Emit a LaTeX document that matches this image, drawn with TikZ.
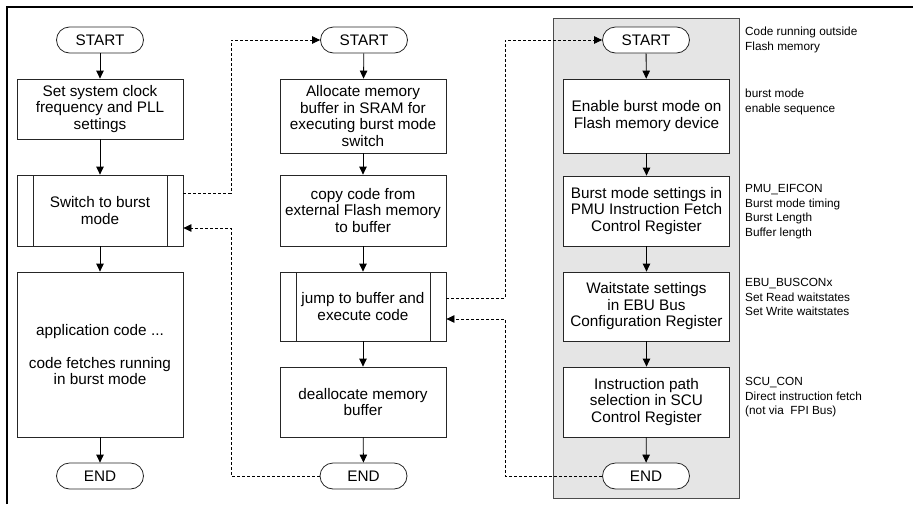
\documentclass[tikz,border=0pt]{standalone}
\usepackage{fontspec}
\setmainfont{Liberation Sans}
\usetikzlibrary{arrows.meta,calc}

\begin{document}
\begin{tikzpicture}[x=1pt,y=-1pt,
  box/.style={draw=black!85, fill=white, line width=0.8pt, minimum width=166pt,
    inner sep=2pt, align=center, font=\fontsize{15.3}{16.5}\selectfont},
  term/.style={box, rounded corners=13pt, minimum width=87pt, minimum height=26pt},
  subproc/.style={box, path picture={
    \draw[black!85, line width=0.8pt]
      ([xshift=16pt]path picture bounding box.north west) -- ([xshift=16pt]path picture bounding box.south west)
      ([xshift=-16pt]path picture bounding box.north east) -- ([xshift=-16pt]path picture bounding box.south east);}},
  flow/.style={-{Triangle[width=7.5pt,length=8pt]}, line width=0.8pt, black},
  link/.style={flow, dash pattern=on 3pt off 2pt},
  note/.style={anchor=north west, inner sep=0pt, align=left,
    font=\fontsize{11.8}{14.5}\selectfont},
  panel/.style={draw=black!70, fill=black!10, line width=0.8pt}
]
\useasboundingbox (0,0) rectangle (913,504);

% frame
\draw[line width=2.5pt] (7,504) -- (7,7) -- (913,7);

% shaded panel of the code run from RAM
\node[panel, minimum width=186pt, minimum height=480pt] (panel) at (646,258) {};

% left column: main program
\node[term] (ls) at (100,40) {START};
\node[box, minimum height=60pt] (l1) at (100,109) {Set system clock\\frequency and PLL\\settings};
\node[subproc, minimum height=71pt] (l2) at (100,210.5) {Switch to burst\\mode};
\node[box, minimum height=165pt] (l3) at (100,354.5) {application code ...\\[16.5pt]code fetches running\\in burst mode};
\node[term] (le) at (100,476) {END};

% middle column: burst mode switch
\node[term] (ms) at (364,40) {START};
\node[box, minimum height=74pt] (m1) at (363,116) {Allocate memory\\buffer in SRAM for\\executing burst mode\\switch};
\node[box, minimum height=71pt] (m2) at (363,210.5) {copy code from\\external Flash memory\\to buffer};
\node[subproc, minimum height=69pt] (m3) at (363,306.5) {jump to buffer and\\execute code};
\node[box, minimum height=70pt] (m4) at (363,402) {deallocate memory\\buffer};
\node[term] (me) at (363.5,476) {END};

% right column: code in the buffer
\node[term] (rs) at (646,40) {START};
\node[box, minimum height=74pt] (r1) at (646.5,116) {Enable burst mode on\\Flash memory device};
\node[box, minimum height=70pt] (r2) at (646.5,211) {Burst mode settings in\\PMU Instruction Fetch\\Control Register};
\node[box, minimum height=69pt] (r3) at (646.5,306.5) {Waitstate settings\\in EBU Bus\\Configuration Register};
\node[box, minimum height=70pt] (r4) at (646.5,402) {Instruction path\\selection in SCU\\Control Register};
\node[term] (re) at (646,476) {END};

% notes
\node[note] (n0) at (745,27) {Code running outside\\Flash memory};
\node[note] (n1) at (745,89) {burst mode\\enable sequence};
\node[note] (n2) at (745,184.5) {PMU\_EIFCON\\Burst mode timing\\Burst Length\\Buffer length};
\node[note] (n3) at (745,278.5) {EBU\_BUSCONx\\Set Read waitstates\\Set Write waitstates};
\node[note] (n4) at (745,377.5) {SCU\_CON\\Direct instruction fetch\\(not via~~FPI Bus)};

% sequential flow
\draw[flow] (ls) -- (l1);
\draw[flow] (l1) -- (l2);
\draw[flow] (l2) -- (l3);
\draw[flow] (l3) -- (le);
\draw[flow] (ms) -- (m1);
\draw[flow] (m1) -- (m2);
\draw[flow] (m2) -- (m3);
\draw[flow] (m3) -- (m4);
\draw[flow] (m4) -- (me);
\draw[flow] (rs) -- (r1);
\draw[flow] (r1) -- (r2);
\draw[flow] (r2) -- (r3);
\draw[flow] (r3) -- (r4);
\draw[flow] (r4) -- (re);

% calls and returns
\coordinate (jl) at (231,0);
\coordinate (jr) at (505,0);
\draw[link] ([yshift=17.5pt]l2.east) -- ([yshift=17.5pt]l2.east -| jl) |- (ms.west);
\draw[link] (me.west) -- (me.west -| jl) |- ([yshift=-17.5pt]l2.east);
\draw[link] ([yshift=8.5pt]m3.east) -- ([yshift=8.5pt]m3.east -| jr) |- (rs.west);
\draw[link] (re.west) -- (re.west -| jr) |- ([yshift=-12.5pt]m3.east);
\end{tikzpicture}
\end{document}
